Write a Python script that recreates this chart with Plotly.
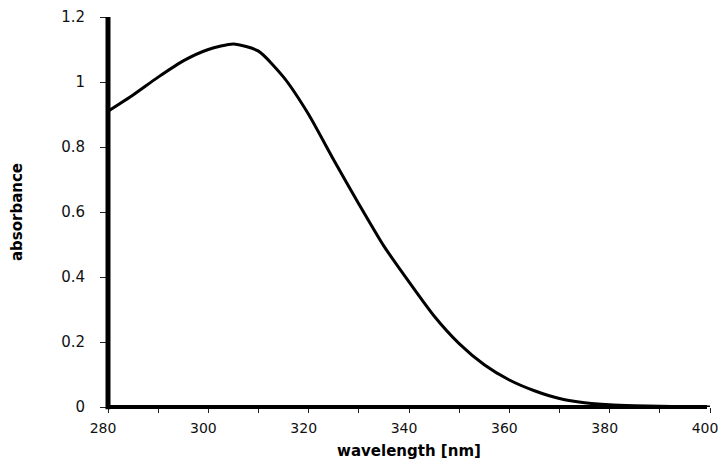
import plotly.graph_objects as go

wavelength = [280, 285, 290, 295, 300, 305, 310, 315, 320, 325, 330, 335, 340,
              345, 350, 355, 360, 365, 370, 375, 380, 385, 390, 395, 400]
absorbance = [0.91, 0.96, 1.015, 1.065, 1.10, 1.117, 1.095, 1.015, 0.90, 0.76,
              0.625, 0.495, 0.385, 0.28, 0.195, 0.13, 0.083, 0.05, 0.026, 0.013,
              0.007, 0.004, 0.002, 0.001, 0.0]
x_ticks = [280, 300, 320, 340, 360, 380, 400]
y_ticks = [0, 0.2, 0.4, 0.6, 0.8, 1, 1.2]

tickfont = dict(family="DejaVu Sans, Liberation Sans, Arial", size=15, color="#111")
xtickfont = dict(family="DejaVu Sans, Liberation Sans, Arial", size=14, color="#111")
titlefont = dict(family="DejaVu Sans, Liberation Sans, Arial", size=15, color="#000", weight="bold")

fig = go.Figure()
fig.add_trace(go.Scatter(x=wavelength, y=absorbance, mode="lines",
                         line=dict(color="black", width=3, shape="spline", smoothing=0.6),
                         showlegend=False, hoverinfo="skip"))

# thick axis lines centred on the plot edges (as in the reference)
fig.add_shape(type="line", xref="paper", yref="paper", x0=0, x1=0, y0=-0.006, y1=1.0,
              line=dict(color="black", width=5), layer="above")
fig.add_shape(type="line", xref="paper", yref="paper", x0=0, x1=0.995, y0=0, y1=0,
              line=dict(color="black", width=4), layer="above")

# page body has an 8px margin, so the figure is 8px smaller and margins shifted
fig.update_layout(
    template="none",
    width=718, height=460,
    margin=dict(l=100, r=16, t=9, b=61, autoexpand=False),
    paper_bgcolor="white", plot_bgcolor="white",
    font=dict(color="#000"),
    xaxis=dict(range=[280, 400], tickvals=x_ticks, ticks="outside", ticklen=5,
               tickwidth=1, tickcolor="#222", automargin=False, ticklabeloverflow="allow",
               minor=dict(dtick=10, tick0=280, ticks="outside", ticklen=5, tickwidth=1, tickcolor="#222",
                          showgrid=False),
               showline=False, showgrid=False, zeroline=False,
               tickfont=xtickfont, ticklabelstandoff=3, ticklabelshift=-5,
               title=dict(text="wavelength [nm]", font=titlefont, standoff=10)),
    yaxis=dict(range=[0, 1.2], tickvals=y_ticks, ticks="outside", ticklen=7,
               tickwidth=1, tickcolor="#222", automargin=False, ticklabeloverflow="allow",
               showline=False, showgrid=False, zeroline=False,
               tickfont=tickfont, ticklabelstandoff=12,
               title=dict(text="absorbance", font=titlefont, standoff=34)),
    xaxis2=dict(range=[280, 400], overlaying="x", anchor="y", side="bottom", automargin=False,
                dtick=10, tick0=280, ticks="inside", ticklen=5, tickwidth=1, tickcolor="#222",
                showticklabels=False, showgrid=False, zeroline=False, showline=False),
    yaxis2=dict(range=[0, 1.2], overlaying="y", anchor="x", side="left", automargin=False,
                dtick=0.2, tick0=0, ticks="inside", ticklen=8, tickwidth=1, tickcolor="#222",
                showticklabels=False, showgrid=False, zeroline=False, showline=False),
)

fig.write_html("out.html")
